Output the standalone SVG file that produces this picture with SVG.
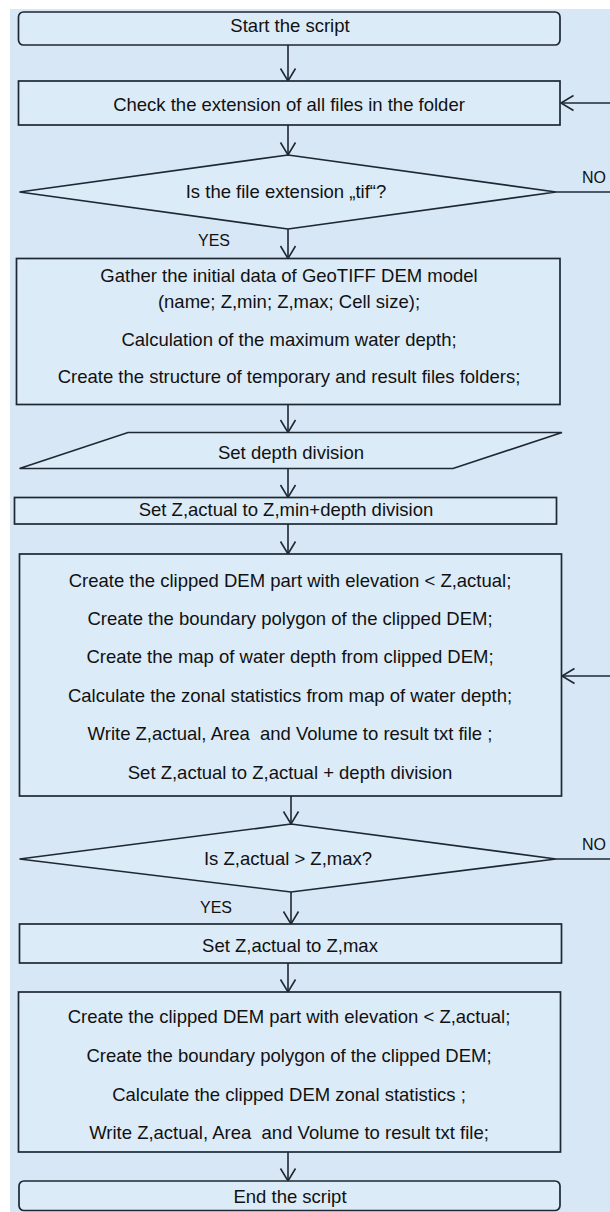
<svg xmlns="http://www.w3.org/2000/svg" width="610" height="1212" viewBox="0 0 610 1212">
<style>
.bg{fill:#d7e7f5}
.n{fill:#dcebf8;stroke:#1e2833;stroke-width:1.7}
.c{fill:none;stroke:#1e2833;stroke-width:1.6}
text{font-family:"Liberation Sans",Arial,sans-serif;font-size:18.5px;fill:#111;text-anchor:middle;white-space:pre}
.lbl{font-size:16px;text-anchor:start}
</style>
<defs>
<marker id="arr" markerUnits="userSpaceOnUse" markerWidth="20" markerHeight="20" viewBox="-14 -10 16 20" refX="0" refY="0" orient="auto" overflow="visible">
<path d="M-12.5,-7.5 L0,0 L-12.5,7.5" fill="none" stroke="#1e2833" stroke-width="1.6"/>
</marker>
</defs>
<rect x="0" y="0" width="610" height="1212" fill="#ffffff"/>
<rect class="bg" x="10" y="9" width="600" height="1203"/>

<g id="connectors">
<line class="c" x1="288" y1="45" x2="288" y2="81" marker-end="url(#arr)"/>
<line class="c" x1="288" y1="125" x2="288" y2="155" marker-end="url(#arr)"/>
<line class="c" x1="288" y1="229" x2="288" y2="258.5" marker-end="url(#arr)"/>
<line class="c" x1="288" y1="404.5" x2="288" y2="432.5" marker-end="url(#arr)"/>
<line class="c" x1="288" y1="468.5" x2="288" y2="497.5" marker-end="url(#arr)"/>
<line class="c" x1="288" y1="524" x2="288" y2="554" marker-end="url(#arr)"/>
<line class="c" x1="291" y1="796" x2="291" y2="824" marker-end="url(#arr)"/>
<line class="c" x1="291" y1="892" x2="291" y2="924" marker-end="url(#arr)"/>
<line class="c" x1="288" y1="963" x2="288" y2="992" marker-end="url(#arr)"/>
<line class="c" x1="288" y1="1152" x2="288" y2="1181" marker-end="url(#arr)"/>
<line class="c" x1="556" y1="192" x2="612" y2="192"/>
<line class="c" x1="612" y1="103" x2="561" y2="103" marker-end="url(#arr)"/>
<line class="c" x1="556" y1="859" x2="612" y2="859"/>
<line class="c" x1="612" y1="676" x2="562" y2="676" marker-end="url(#arr)"/>
<text class="lbl" x="582" y="183">NO</text>
<text class="lbl" x="198" y="246">YES</text>
<text class="lbl" x="582" y="850">NO</text>
<text class="lbl" x="200" y="913">YES</text>
</g>

<g id="start">
<rect class="n" x="18.5" y="12" width="541.5" height="33" rx="5"/>
<text x="290" y="32">Start the script</text>
</g>
<g id="check">
<rect class="n" x="18.5" y="81" width="541.5" height="44"/>
<text x="289" y="111">Check the extension of all files in the folder</text>
</g>
<g id="dec-tif">
<polygon class="n" points="288,155 556,192 288,229 19.5,192"/>
<text x="286" y="198">Is the file extension „tif“?</text>
</g>
<g id="gather">
<rect class="n" x="16.5" y="258.5" width="543.5" height="146"/>
<text x="289" y="281.5">Gather the initial data of GeoTIFF DEM model</text>
<text x="289" y="308">(name; Z,min; Z,max; Cell size);</text>
<text x="289" y="345.5">Calculation of the maximum water depth;</text>
<text x="289" y="382.5">Create the structure of temporary and result files folders;</text>
</g>
<g id="depth-input">
<polygon class="n" points="128,432.5 562,432.5 453,468.5 19.5,468.5"/>
<text x="291" y="458.5">Set depth division</text>
</g>
<g id="set-zmin">
<rect class="n" x="14.5" y="497.5" width="542" height="26.5"/>
<text x="286" y="515.5">Set Z,actual to Z,min+depth division</text>
</g>
<g id="loop-body">
<rect class="n" x="19.5" y="554" width="542" height="242"/>
<text x="290" y="586.5">Create the clipped DEM part with elevation &lt; Z,actual;</text>
<text x="290" y="624.5">Create the boundary polygon of the clipped DEM;</text>
<text x="290" y="663">Create the map of water depth from clipped DEM;</text>
<text x="290" y="701.5">Calculate the zonal statistics from map of water depth;</text>
<text x="290" y="739.5" xml:space="preserve">Write Z,actual, Area  and Volume to result txt file ;</text>
<text x="290" y="779">Set Z,actual to Z,actual + depth division</text>
</g>
<g id="dec-zmax">
<polygon class="n" points="291,824 556,859 291,892 19.5,859"/>
<text x="288" y="864.5">Is Z,actual &gt; Z,max?</text>
</g>
<g id="set-zmax">
<rect class="n" x="19.5" y="924" width="542" height="39"/>
<text x="290" y="952">Set Z,actual to Z,max</text>
</g>
<g id="final">
<rect class="n" x="18.5" y="992" width="542" height="160"/>
<text x="289" y="1023">Create the clipped DEM part with elevation &lt; Z,actual;</text>
<text x="289" y="1061.5">Create the boundary polygon of the clipped DEM;</text>
<text x="289" y="1100.5">Calculate the clipped DEM zonal statistics ;</text>
<text x="289" y="1139" xml:space="preserve">Write Z,actual, Area  and Volume to result txt file;</text>
</g>
<g id="end">
<rect class="n" x="19" y="1181" width="541" height="29.5" rx="5"/>
<text x="290" y="1203">End the script</text>
</g>
</svg>
